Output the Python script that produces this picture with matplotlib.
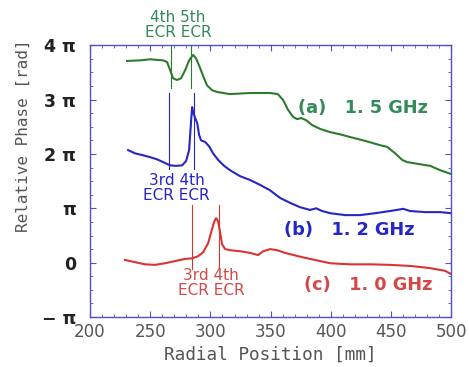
import numpy as np
import matplotlib
matplotlib.use("Agg")
import matplotlib.pyplot as plt
from matplotlib.ticker import MultipleLocator

# ---- data (phase in units of pi) ----
r_a = [230.7, 241.6, 250.0, 255.0, 260.7, 264.0, 266.5, 269.0, 272.3, 275.6, 279.0, 282.3,
       285.6, 288.0, 291.4, 294.7, 297.2, 301.4, 305.5, 316.0, 333.0, 349.6, 356.0, 360.4,
       364.5, 368.7, 372.0, 375.4, 379.5, 384.5, 391.1, 399.5, 407.8, 416.1, 428.5, 441.0,
       446.8, 453.5, 459.3, 463.4, 474.2, 482.6, 490.9, 500.0]
phase_a = [3.71, 3.72, 3.74, 3.73, 3.72, 3.69, 3.54, 3.39, 3.36, 3.39, 3.54, 3.72,
           3.82, 3.76, 3.58, 3.39, 3.26, 3.17, 3.14, 3.10, 3.12, 3.12, 3.10, 2.99,
           2.81, 2.68, 2.64, 2.66, 2.62, 2.53, 2.46, 2.40, 2.36, 2.31, 2.24, 2.16,
           2.13, 2.01, 1.89, 1.85, 1.81, 1.78, 1.70, 1.63]

r_b = [231.6, 237.4, 243.2, 249.9, 255.7, 260.7, 266.5, 271.5, 276.5, 279.8, 282.3, 284.0,
       284.8, 285.6, 287.3, 289.0, 290.6, 292.2, 295.6, 298.9, 302.2, 306.4, 311.4, 316.3,
       324.7, 333.0, 341.3, 349.6, 357.9, 366.2, 374.5, 382.8, 387.8, 392.8, 399.5, 411.9,
       424.4, 436.8, 449.3, 460.1, 465.9, 478.4, 490.9, 500.0]
phase_b = [2.07, 2.01, 1.98, 1.94, 1.90, 1.85, 1.79, 1.78, 1.79, 1.87, 2.07, 2.62,
           2.86, 2.77, 2.66, 2.57, 2.35, 2.25, 2.22, 2.14, 2.01, 1.89, 1.78, 1.70,
           1.59, 1.52, 1.43, 1.33, 1.19, 1.10, 1.02, 0.97, 1.00, 0.95, 0.91, 0.875,
           0.875, 0.91, 0.95, 0.99, 0.95, 0.93, 0.93, 0.91]

r_c = [229.0, 237.4, 245.7, 254.0, 262.3, 270.6, 279.0, 284.8, 289.8, 293.9, 298.1, 300.6,
       303.1, 304.7, 306.4, 308.0, 309.7, 312.2, 316.3, 324.7, 333.0, 339.6, 343.8, 349.6,
       355.4, 362.1, 374.5, 387.0, 399.5, 416.1, 432.7, 449.3, 466.0, 482.6, 495.0, 500.0]
phase_c = [0.05, 0.01, -0.03, -0.04, -0.01, 0.03, 0.07, 0.08, 0.12, 0.19, 0.36, 0.56,
           0.75, 0.82, 0.76, 0.56, 0.34, 0.25, 0.23, 0.21, 0.18, 0.14, 0.21, 0.25,
           0.23, 0.18, 0.11, 0.05, -0.01, -0.03, -0.03, -0.04, -0.06, -0.10, -0.15, -0.21]

ecr_a = [267, 284]
ecr_b = [266, 286]
ecr_c = [285, 307]

ytick_vals = [-1, 0, 1, 2, 3, 4]
ytick_labels = ["\u2212 \u03c0", "0", "\u03c0", "2 \u03c0", "3 \u03c0", "4 \u03c0"]
xtick_vals = [200, 250, 300, 350, 400, 450, 500]

green, blue, red = "#2f7a2f", "#2626c4", "#d83434"
green_t, red_t = "#358a5a", "#d44848"
spine_c = "#5050c8"

fig = plt.figure(figsize=(4.69, 3.67), dpi=100)
ax = fig.add_axes([0.192, 0.136, 0.770, 0.741])

ax.plot(r_a, np.array(phase_a) * np.pi, color=green, lw=1.5)
ax.plot(r_b, np.array(phase_b) * np.pi, color=blue, lw=1.5)
ax.plot(r_c, np.array(phase_c) * np.pi, color=red, lw=1.5)

for x in ecr_a:
    ax.plot([x, x], [3.21 * np.pi, 4 * np.pi], color=green, lw=0.8)
for x in ecr_b:
    ax.plot([x, x], [1.72 * np.pi, 3.12 * np.pi], color=blue, lw=0.8)
for x in ecr_c:
    ax.plot([x, x], [-0.12 * np.pi, 1.06 * np.pi], color=red, lw=0.8)

ax.text(273, 4.37 * np.pi, "4th 5th\nECR ECR", color=green_t, fontsize=11,
        ha="center", va="center", linespacing=1.0)
ax.text(272, 1.37 * np.pi, "3rd 4th\nECR ECR", color=blue, fontsize=11,
        ha="center", va="center", linespacing=1.0)
ax.text(300.5, -0.37 * np.pi, "3rd 4th\nECR ECR", color=red_t, fontsize=11,
        ha="center", va="center", linespacing=1.0)

ax.text(427, 2.84 * np.pi, "(a)   1. 5 GHz", color=green_t, fontsize=12.8,
        fontweight="bold", ha="center", va="center")
ax.text(415, 0.60 * np.pi, "(b)   1. 2 GHz", color=blue, fontsize=12.8,
        fontweight="bold", ha="center", va="center")
ax.text(431, -0.41 * np.pi, "(c)   1. 0 GHz", color=red_t, fontsize=12.8,
        fontweight="bold", ha="center", va="center")

ax.set_xlim(200, 500)
ax.set_ylim(-np.pi, 4 * np.pi)
ax.set_xticks(xtick_vals)
ax.set_xticklabels([str(v) for v in xtick_vals], color="#555555", fontsize=12)
ax.set_yticks(np.array(ytick_vals) * np.pi)
ax.set_yticklabels(ytick_labels, fontsize=12.5, fontweight="bold", color="#222222")
ax.xaxis.set_minor_locator(MultipleLocator(10))
ax.yaxis.set_minor_locator(MultipleLocator(np.pi / 4))
ax.tick_params(which="both", direction="in", top=True, right=True, colors=spine_c)
ax.tick_params(which="major", length=4, width=0.8)
ax.tick_params(which="minor", length=2, width=0.6)
ax.tick_params(axis="x", labelcolor="#555555", pad=4)
ax.tick_params(axis="y", labelcolor="#222222", pad=10)
for s in ax.spines.values():
    s.set_color(spine_c)
    s.set_linewidth(1.0)

ax.set_xlabel("Radial Position [mm]", fontsize=12.8, family="DejaVu Sans Mono",
              color="#555555", labelpad=4)
ax.set_ylabel("Relative Phase [rad]", fontsize=11.5, family="DejaVu Sans Mono",
              color="#555555")
ax.yaxis.set_label_coords(-0.165, 0.665)

fig.savefig("out.png", dpi=100)
